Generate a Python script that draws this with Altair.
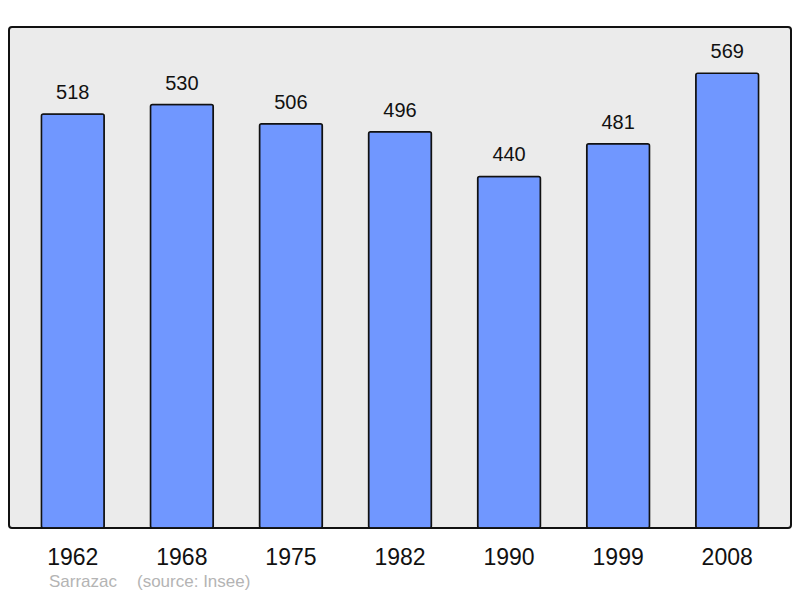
import altair as alt
import pandas as pd

years = ["1962", "1968", "1975", "1982", "1990", "1999", "2008"]
population = [518, 530, 506, 496, 440, 481, 569]
caption_name = "Sarrazac"
caption_source = "(source: Insee)"

df = pd.DataFrame({"year": years, "pop": population})

FONT = "Liberation Sans"

x = alt.X("year:N", sort=years, title=None,
          scale=alt.Scale(paddingInner=0.424, paddingOuter=0.297),
          axis=alt.Axis(labelAngle=0, domain=False, ticks=False, labelPadding=18,
                        labelFontSize=23, labelFont=FONT, labelColor="#111"))
y = alt.Y("pop:Q", title=None, scale=alt.Scale(domain=[0, 627], nice=False, zero=True),
          axis=None)

base = alt.Chart(df)

bars = base.mark_bar(color="#7097ff", stroke="#111", strokeWidth=1.5, cornerRadius=2).encode(x=x, y=y)

labels = base.mark_text(font=FONT, fontSize=20, color="#111", baseline="alphabetic", dy=-15).encode(
    x=x, y=y, text="pop:Q")

cap1 = alt.Chart(pd.DataFrame({"t": [caption_name]})).mark_text(
    font=FONT, fontSize=17, color="#b4b4b4", align="left", baseline="alphabetic").encode(
    x=alt.value(40), y=alt.value(560), text="t:N")
cap2 = alt.Chart(pd.DataFrame({"t": [caption_source]})).mark_text(
    font=FONT, fontSize=17, color="#b4b4b4", align="left", baseline="alphabetic").encode(
    x=alt.value(128), y=alt.value(560), text="t:N")

chart = alt.layer(bars, labels, cap1, cap2).properties(
    width=782, height=501,
    autosize=alt.AutoSizeParams(type="none"),
    padding={"left": 1, "top": 19, "right": 1, "bottom": 62},
    background="white",
).configure_view(
    fill="#ebebeb", stroke="#111", strokeWidth=2, cornerRadius=3
)

chart.save("out.html", embed_options={"renderer": "svg", "actions": False})
